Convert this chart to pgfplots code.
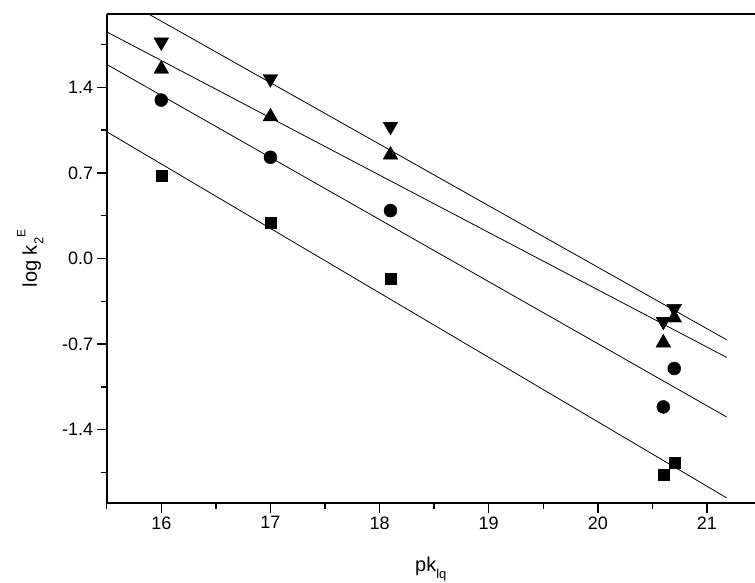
\documentclass[border=0pt]{standalone}
\usepackage{pgfplots}
\pgfplotsset{compat=1.18}
\usepackage{fontspec}
\setmainfont{Liberation Sans}
\begin{document}
\begin{tikzpicture}
\begin{axis}[
  at={(0,0)}, anchor=south west,
  scale only axis, width=648.3pt, height=489pt,
  xmin=15.5, xmax=21.44, ymin=-2, ymax=2,
  axis x line*=box, axis y line*=left,
  axis line style={line width=1.8pt},
  tick align=outside, xtick pos=bottom, ytick pos=left,
  xtick={16,17,18,19,20,21}, xticklabels={16,17,18,19,20,21},
  minor xtick={15.5,16.5,17.5,18.5,19.5,20.5},
  ytick={-1.4,-0.7,0,0.7,1.4}, yticklabels={-1.4,-0.7,0.0,0.7,1.4},
  minor ytick={-1.75,-1.05,-0.35,0.35,1.05,1.75},
  major tick length=10pt, minor tick length=6pt,
  every tick/.style={black, line width=1.5pt},
  tick label style={font=\fontsize{18}{20}\selectfont},
  xlabel={pk\raisebox{-0.7ex}{\fontsize{13}{13}\selectfont lq}},
  ylabel={log k\raisebox{-0.6ex}{\fontsize{13}{13}\selectfont 2}\raisebox{1.1ex}{\fontsize{12}{12}\selectfont E}},
  label style={font=\fontsize{20}{22}\selectfont},
  xlabel style={at={(axis description cs:0.5,0)}, anchor=north, yshift=-50pt},
  ylabel style={at={(axis description cs:-0.118,0.5)}, anchor=center},
  clip=true,
]
% fitted lines
\addplot[black, line width=0.8pt] coordinates {(15.5,1.037) (21.18,-1.958)};
\addplot[black, line width=0.8pt] coordinates {(15.5,1.588) (21.18,-1.296)};
\addplot[black, line width=0.8pt] coordinates {(15.5,1.854) (21.18,-0.809)};
\addplot[black, line width=0.8pt] coordinates {(15.5,2.193) (21.18,-0.665)};
% data
\addplot[only marks, mark=square*, mark size=5.5pt, black] coordinates {(16,0.675) (17,0.289) (18.1,-0.169) (20.6,-1.767) (20.7,-1.672)};
\addplot[only marks, mark=*, mark size=6.5pt, black] coordinates {(16,1.296) (17,0.828) (18.1,0.392) (20.6,-1.214) (20.7,-0.90)};
\addplot[only marks, mark=triangle*, mark size=8.5pt, black] coordinates {(16,1.55) (17,1.16) (18.1,0.847) (20.6,-0.69) (20.7,-0.485)};
\addplot[only marks, mark=triangle*, mark size=8.5pt, black, every mark/.append style={rotate=180}] coordinates {(16,1.77) (17,1.47) (18.1,1.08) (20.6,-0.515) (20.7,-0.41)};
\end{axis}
\pgfresetboundingbox
\path (-106.7pt,-80pt) rectangle (648.3pt,503pt);
\end{tikzpicture}
\end{document}
